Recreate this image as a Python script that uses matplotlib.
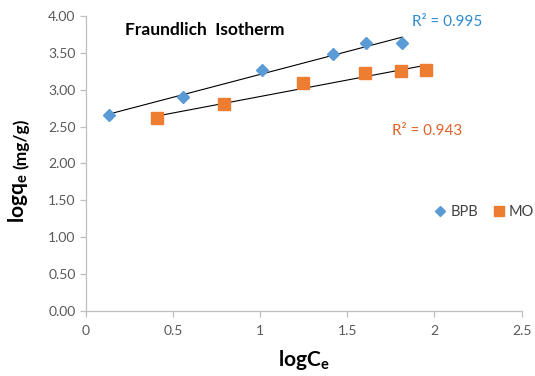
import numpy as np
import matplotlib
matplotlib.use("Agg")
import matplotlib.pyplot as plt

plt.rcParams["font.family"] = ["Lato", "DejaVu Sans"]
plt.rcParams["mathtext.fontset"] = "custom"
plt.rcParams["mathtext.rm"] = "Lato"
plt.rcParams["mathtext.bf"] = "Lato:bold"
plt.rcParams["mathtext.it"] = "Lato:italic"

# data
bpb_x = [0.13, 0.555, 1.01, 1.415, 1.605, 1.815]
bpb_y = [2.655, 2.90, 3.27, 3.48, 3.63, 3.64]
mo_x = [0.41, 0.79, 1.245, 1.60, 1.805, 1.95]
mo_y = [2.61, 2.80, 3.09, 3.23, 3.25, 3.27]
r2_labels = ["R² = 0.995", "R² = 0.943"]
xticks = [0, 0.5, 1, 1.5, 2, 2.5]
yticks = [0, 0.5, 1, 1.5, 2, 2.5, 3, 3.5, 4]

blue = "#5B9BD5"
orange = "#ED7D31"


def trend(ax, x, y):
    x = np.array(x)
    k, b = np.polyfit(x, y, 1)
    xs = np.array([x.min(), x.max()])
    ax.plot(xs, k * xs + b, color="black", lw=0.8, zorder=2)


def main():
    fig = plt.figure(figsize=(5.35, 3.76), dpi=100)
    ax = fig.add_axes([0.1607, 0.1737, 0.8143, 0.7837])

    trend(ax, bpb_x, bpb_y)
    trend(ax, mo_x, mo_y)
    ax.plot(bpb_x, bpb_y, "D", color=blue, ms=6.3, mec=blue, label="BPB", zorder=3)
    ax.plot(mo_x, mo_y, "s", color=orange, ms=9, mec=orange, label="MO", zorder=3)

    ax.set_xlim(0, 2.5)
    ax.set_ylim(0, 4)
    ax.set_xticks(xticks)
    ax.set_xticklabels([f"{t:g}" for t in xticks])
    ax.set_yticks(yticks)
    ax.set_yticklabels([f"{t:.2f}" for t in yticks])

    for s in ["top", "right"]:
        ax.spines[s].set_visible(False)
    for s in ["left", "bottom"]:
        ax.spines[s].set_color("#BFBFBF")
        ax.spines[s].set_linewidth(0.9)
    ax.tick_params(direction="out", length=4, width=0.9, color="#BFBFBF",
                   labelcolor="#595959", labelsize=10)
    ax.tick_params(axis="x", pad=6)

    ax.text(0.09, 0.953, "Fraundlich  Isotherm", transform=ax.transAxes,
            fontsize=12.5, fontweight="bold", va="center", ha="left")
    ax.text(0.748, 0.98, r2_labels[0], transform=ax.transAxes,
            fontsize=11, color="#2E8BD0", va="center", ha="left")
    ax.text(0.702, 0.61, r2_labels[1], transform=ax.transAxes,
            fontsize=11, color="#E0622A", va="center", ha="left")

    ax.set_xlabel(r"$\mathbf{logC_e}$", fontsize=15, labelpad=8)
    # y label: bold logq_e followed by smaller (mg/g)
    fig.text(18 / 535, 1 - 223 / 376, r"$\mathbf{logq_e}$", rotation=90,
             fontsize=15, ha="center", va="bottom")
    fig.text(21 / 535, 1 - 169 / 376, "(mg/g)", rotation=90,
             fontsize=12.5, fontweight="bold", ha="center", va="bottom")

    ax.legend(loc="center left", bbox_to_anchor=(0.77, 0.335), ncol=2,
              frameon=False, handletextpad=0.3, columnspacing=1.0,
              handlelength=0.8, markerscale=0.75, fontsize=10.5,
              labelcolor="#404040")

    fig.savefig("out.png", dpi=100)


if __name__ == "__main__":
    main()
